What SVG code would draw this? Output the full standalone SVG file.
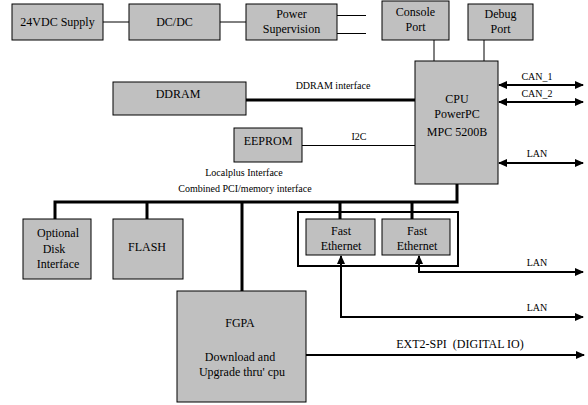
<svg xmlns="http://www.w3.org/2000/svg" width="588" height="405" viewBox="0 0 588 405">
<style>
.box{fill:#c0c0c0;stroke:#000;stroke-width:1}
text{font-family:"Liberation Serif","Times New Roman",serif;fill:#000}
.t{font-size:12px;text-anchor:middle}
.s{font-size:10px;text-anchor:middle}
.thin{stroke:#000;stroke-width:1;fill:none}
.thick{stroke:#000;stroke-width:3;fill:none}
.arr{stroke:#000;stroke-width:2;fill:none}
</style>
<defs>
<marker id="ah" viewBox="0 0 9 8" refX="8" refY="4" markerWidth="9" markerHeight="8" markerUnits="userSpaceOnUse" orient="auto-start-reverse">
<path d="M0,0 L9,4 L0,8 z" fill="#000"/>
</marker>
</defs>
<rect x="0" y="0" width="588" height="405" fill="#fff"/>

<g id="connectors">
<line class="thin" x1="103" y1="22" x2="129" y2="22"/>
<line class="thin" x1="220" y1="22" x2="246" y2="22"/>
<line class="thin" x1="337" y1="15.5" x2="366" y2="15.5"/>
<line class="thin" x1="337" y1="33.5" x2="366" y2="33.5"/>
<line class="thin" x1="434" y1="40" x2="434" y2="61"/>
<line class="thin" x1="484" y1="40" x2="484" y2="61"/>
<line class="thick" x1="246" y1="100" x2="415" y2="100"/>
<text class="s" x="333" y="89">DDRAM interface</text>
<line class="thin" x1="302" y1="145.5" x2="415" y2="145.5"/>
<text class="s" x="359" y="140">I2C</text>
<line class="arr" x1="499" y1="85" x2="583" y2="85" marker-start="url(#ah)" marker-end="url(#ah)"/>
<text class="s" x="537" y="80">CAN_1</text>
<line class="arr" x1="499" y1="102" x2="583" y2="102" marker-start="url(#ah)" marker-end="url(#ah)"/>
<text class="s" x="537" y="97">CAN_2</text>
<line class="arr" x1="499" y1="163" x2="583" y2="163" marker-start="url(#ah)" marker-end="url(#ah)"/>
<text class="s" x="537" y="157">LAN</text>
<text class="s" x="244" y="176">Localplus Interface</text>
<text class="s" x="245" y="192">Combined PCI/memory interface</text>
<polyline class="thick" points="457,184 457,202 55,202 55,219"/>
<line class="thick" x1="147" y1="202" x2="147" y2="219"/>
<line class="thick" x1="242" y1="202" x2="242" y2="291"/>
<line class="thick" x1="340" y1="202" x2="340" y2="219"/>
<line class="thick" x1="412" y1="202" x2="412" y2="219"/>
<polyline class="arr" points="419,256 419,272 583,272" marker-start="url(#ah)" marker-end="url(#ah)"/>
<text class="s" x="537" y="266">LAN</text>
<polyline class="arr" points="341,256 341,317 583,317" marker-start="url(#ah)" marker-end="url(#ah)"/>
<text class="s" x="537" y="311">LAN</text>
<line class="arr" x1="306" y1="355" x2="584" y2="355" stroke-width="1.5" marker-end="url(#ah)"/>
<text class="t" x="460" y="348" xml:space="preserve">EXT2-SPI  (DIGITAL IO)</text>
</g>

<g id="supply">
<rect class="box" x="12" y="4" width="91" height="36"/>
<text class="t" x="57.5" y="26">24VDC Supply</text>
</g>
<g id="dcdc">
<rect class="box" x="129" y="4" width="91" height="36"/>
<text class="t" x="174.5" y="26">DC/DC</text>
</g>
<g id="powersup">
<rect class="box" x="246" y="4" width="91" height="36"/>
<text class="t" x="291.5" y="18">Power</text>
<text class="t" x="291.5" y="33">Supervision</text>
</g>
<g id="console">
<rect class="box" x="382" y="1" width="67" height="39"/>
<text class="t" x="415.5" y="16">Console</text>
<text class="t" x="415.5" y="31">Port</text>
</g>
<g id="debug">
<rect class="box" x="468" y="4" width="65" height="36"/>
<text class="t" x="500.5" y="18">Debug</text>
<text class="t" x="500.5" y="33">Port</text>
</g>
<g id="cpu">
<rect class="box" x="415" y="61" width="83" height="123"/>
<text class="t" x="457" y="103">CPU</text>
<text class="t" x="457" y="118">PowerPC</text>
<text class="t" x="457" y="136">MPC 5200B</text>
</g>
<g id="ddram">
<rect class="box" x="113" y="82" width="133" height="33"/>
<text class="t" x="178" y="98">DDRAM</text>
</g>
<g id="eeprom">
<rect class="box" x="234" y="128" width="68" height="34"/>
<text class="t" x="268" y="145">EEPROM</text>
</g>
<g id="disk">
<rect class="box" x="23" y="219" width="68" height="60"/>
<text class="t" x="58" y="237">Optional</text>
<text class="t" x="54" y="253">Disk</text>
<text class="t" x="58" y="268">Interface</text>
</g>
<g id="flash">
<rect class="box" x="113" y="219" width="70" height="60"/>
<text class="t" x="147" y="251">FLASH</text>
</g>
<g id="ethernet">
<rect x="298" y="212" width="160" height="54" fill="none" stroke="#000" stroke-width="2"/>
<g id="fe1">
<rect class="box" x="306" y="219" width="69" height="36"/>
<text class="t" x="341" y="235">Fast</text>
<text class="t" x="341" y="250">Ethernet</text>
</g>
<g id="fe2">
<rect class="box" x="382" y="219" width="68" height="36"/>
<text class="t" x="417" y="235">Fast</text>
<text class="t" x="417" y="250">Ethernet</text>
</g>
</g>
<g id="fpga">
<rect class="box" x="177" y="291" width="129" height="111"/>
<text class="t" x="240" y="327">FGPA</text>
<text class="t" x="240" y="361">Download and</text>
<text class="t" x="242" y="376">Upgrade thru' cpu</text>
</g>
</svg>
